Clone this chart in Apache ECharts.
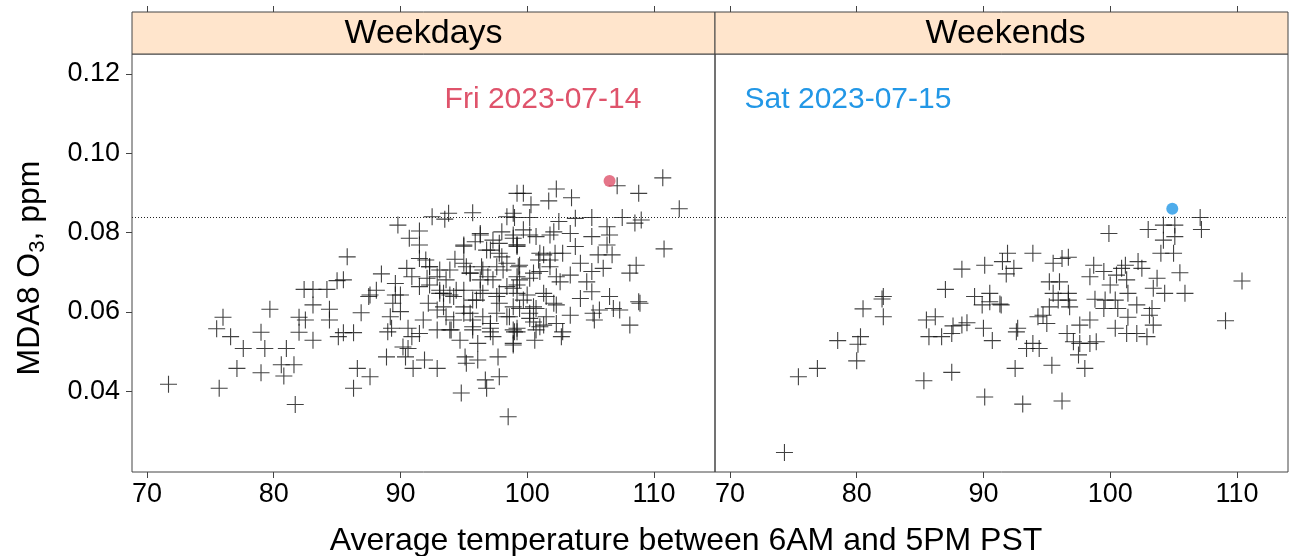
<!DOCTYPE html>
<html>
<head>
<meta charset="utf-8">
<title>MDA8 O3 vs temperature</title>
<script src="https://cdn.jsdelivr.net/npm/echarts@6/dist/echarts.min.js"></script>
<style>
  html, body { margin: 0; padding: 0; background: #fff; }
  #chart { width: 1289px; height: 556px; }
</style>
</head>
<body>
<div id="chart"></div>
<script>
// values: [temperature, MDA8 O3 ppm]
const weekdayPoints = [
  [71.7,0.0418],[75.7,0.0408],[75.5,0.0558],[76.0,0.0587],[76.6,0.0538],[77.6,0.0508],[77.1,0.0458],
  [79.7,0.0607],[79.0,0.0549],[79.3,0.0508],[79.0,0.0447],[81.0,0.0508],[80.6,0.0467],[81.6,0.0467],
  [80.8,0.0439],[81.7,0.0367],[82.0,0.0587],[82.5,0.0580],[82.0,0.0549],[83.1,0.0529],[82.4,0.0657],
  [83.1,0.0657],[84.2,0.0657],[83.1,0.0618],[84.4,0.0607],[84.4,0.0580],[85.0,0.0679],[85.1,0.0538],
  [85.8,0.0739],
  [89.8,0.0819],[91.5,0.0804],[90.7,0.0786],[91.5,0.0769],[92.5,0.0840],[93.8,0.0849],[93.5,0.0834],
  [95.7,0.0850],[96.3,0.0798],[95.9,0.0777],[95.0,0.0766],[98.4,0.0840],[98.9,0.0849],[99.2,0.0899],
  [98.0,0.0802],[97.3,0.0781],[98.9,0.0786],[99.2,0.0769],[97.8,0.0748],[96.8,0.0756],[94.3,0.0733],
  [92.0,0.0731],[91.5,0.0735],[92.3,0.0714],[90.5,0.0710],[90.9,0.0689],[88.5,0.0696],[89.6,0.0672],
  [88.1,0.0655],[85.5,0.0681],[92.1,0.0685],[93.1,0.0706],[93.6,0.0681],[95.2,0.0714],[95.5,0.0698],
  [96.5,0.0706],[96.3,0.0681],[97.6,0.0714],[98.4,0.0723],[97.3,0.0681],[99.2,0.0689],[94.4,0.0655],
  [93.1,0.0655],[91.5,0.0664],[92.3,0.0668],[90.0,0.0643],[87.6,0.0643],[96.3,0.0655],[97.8,0.0647],
  [98.9,0.0660],
  [87.5,0.0639],[89.6,0.0643],[89.4,0.0622],[90.0,0.0601],[89.2,0.0588],[86.9,0.0598],[85.5,0.0548],
  [86.3,0.0548],[89.0,0.0550],[89.3,0.0559],[90.6,0.0559],[91.5,0.0546],[91.8,0.0580],[92.2,0.0622],
  [90.9,0.0538],[90.2,0.0512],[90.6,0.0508],[88.9,0.0487],[90.4,0.0487],[91.9,0.0479],[91.0,0.0458],
  [92.9,0.0458],[86.6,0.0458],[87.6,0.0437],[86.3,0.0408],[92.9,0.0555],[94.0,0.0555],[94.7,0.0529],
  [94.2,0.0580],[93.4,0.0613],[93.1,0.0647],[93.9,0.0643],[95.1,0.0487],[95.2,0.0471],[96.1,0.0479],
  [96.1,0.0521],[95.7,0.0563],[95.5,0.0597],[96.5,0.0588],[97.1,0.0559],[97.3,0.0538],[97.7,0.0487],
  [97.8,0.0437],[96.7,0.0429],[96.8,0.0408],[94.8,0.0396],[98.5,0.0336],[98.9,0.0521],[99.0,0.0550],
  [98.4,0.0588],[97.8,0.0622],[98.9,0.0613],[96.0,0.0630],[95.0,0.0613],
  [110.7,0.0938],[107.1,0.0918],[108.8,0.0899],[112.0,0.0860],[99.7,0.0899],[102.3,0.0910],[101.7,0.0880],
  [103.5,0.0888],[100.3,0.0870],[99.0,0.0838],[100.2,0.0838],[102.5,0.0828],[103.8,0.0836],[105.1,0.0838],
  [106.3,0.0815],[107.5,0.0838],[108.5,0.0824],[109.0,0.0832],[106.5,0.0794],[102.1,0.0802],[103.4,0.0798],
  [105.1,0.0790],[100.7,0.0790],[99.7,0.0807],[99.2,0.0769],[103.8,0.0765],[106.3,0.0769],[110.8,0.0759],
  [101.3,0.0744],[102.8,0.0748],[106.7,0.0744],[105.6,0.0744],[101.8,0.0731],[104.2,0.0723],[99.4,0.0718],
  [108.6,0.0718],[108.1,0.0698],[106.0,0.0710],[105.1,0.0702],[103.4,0.0693],[101.0,0.0702],[100.2,0.0685],
  [102.6,0.0676],[104.7,0.0676],[99.2,0.0668],[105.1,0.0651],[106.5,0.0639],[108.8,0.0626],[107.3,0.0605],
  [105.7,0.0605],[105.3,0.0580],[103.4,0.0592],[102.3,0.0618],[100.7,0.0609],[99.4,0.0609],[100.2,0.0584],
  [101.3,0.0567],[99.2,0.0559],[108.1,0.0567],[104.2,0.0634],[101.5,0.0639],[100.0,0.0643],[102.8,0.0550],
  [108.9,0.0622],[106.8,0.0609],[105.2,0.0597],[102.7,0.0538],[100.6,0.0529],[98.9,0.0517],[99.2,0.0550],
  [101.0,0.0563],
  [95.0,0.0769],[96.3,0.0794],[97.1,0.0756],[97.8,0.0773],[98.9,0.0794],[99.2,0.0765],[100.2,0.0794],
  [101.0,0.0748],[101.8,0.0794],[102.2,0.0748],[92.3,0.0714],[92.9,0.0689],[93.9,0.0706],[95.0,0.0723],
  [95.5,0.0698],[96.4,0.0714],[96.9,0.0689],[98.0,0.0739],[98.1,0.0706],[99.3,0.0714],[99.4,0.0681],
  [100.5,0.0698],[100.9,0.0731],[101.8,0.0714],[102.3,0.0689],[93.4,0.0647],[94.2,0.0639],[95.0,0.0655],
  [95.7,0.0630],[96.5,0.0647],[97.6,0.0639],[98.4,0.0664],[99.2,0.0647],[99.7,0.0630],[100.5,0.0613],
  [101.3,0.0647],[102.1,0.0622],[92.9,0.0605],[93.6,0.0588],[95.0,0.0597],[95.7,0.0580],[97.1,0.0571],
  [97.6,0.0597],[98.6,0.0588],[100.2,0.0597],[100.5,0.0575],[101.5,0.0588],[102.3,0.0571],[93.9,0.0555],
  [95.7,0.0555],[97.1,0.0550],[98.9,0.0555],[100.7,0.0555]
];

const weekendPoints = [
  [74.3,0.0246],[75.4,0.0437],[76.9,0.0458],[78.5,0.0528],[80.0,0.0477],[80.1,0.0519],[80.3,0.0538],
  [80.5,0.0608],[82.0,0.0633],[82.1,0.0639],[82.1,0.0588],[85.3,0.0427],[87.5,0.0448],[90.1,0.0386],
  [85.5,0.0580],[86.2,0.0588],[85.7,0.0538],[86.7,0.0538],[87.5,0.0546],[87.6,0.0565],[88.3,0.0567],
  [88.7,0.0573],[87.0,0.0657],[88.3,0.0708],[90.1,0.0718],[89.3,0.0639],[89.9,0.0618],[90.5,0.0647],
  [90.5,0.0626],[91.4,0.0618],[90.0,0.0559],[90.7,0.0528],[91.9,0.0748],[91.5,0.0727],[91.8,0.0696],
  [107.1,0.0838],[107.2,0.0808],[105.1,0.0819],[104.2,0.0819],[103.0,0.0808],[105.1,0.0790],[104.2,0.0781],
  [105.0,0.0748],[104.0,0.0748],[99.9,0.0798],[110.4,0.0678],[109.1,0.0578],[105.5,0.0699],[105.9,0.0647],
  [104.3,0.0647],[103.7,0.0685],[103.4,0.0660],[102.2,0.0727],[102.5,0.0710],[101.2,0.0718],[100.9,0.0710],
  [101.3,0.0681],[99.5,0.0702],[98.7,0.0718],[98.4,0.0689],[100.0,0.0668],[100.5,0.0693],[101.4,0.0647],
  [99.6,0.0630],[98.8,0.0632],[100.4,0.0630],[102.1,0.0618],[103.3,0.0609],[103.1,0.0592],[101.4,0.0587],
  [100.6,0.0609],[99.5,0.0609],[103.4,0.0567],[100.4,0.0559],[101.3,0.0546],[102.1,0.0546],[102.9,0.0538],
  [98.4,0.0580],[97.6,0.0567],[96.7,0.0630],[96.7,0.0647],[95.5,0.0647],[95.2,0.0676],[96.0,0.0676],
  [95.5,0.0723],[96.2,0.0735],[96.7,0.0738],[93.9,0.0748],[92.4,0.0710],[91.3,0.0620],[95.2,0.0613],
  [95.9,0.0630],[96.8,0.0613],[94.3,0.0588],[95.0,0.0571],[94.7,0.0592],[92.7,0.0559],[92.6,0.0550],
  [93.9,0.0521],[93.4,0.0508],[94.4,0.0508],[96.6,0.0546],[97.1,0.0525],[97.6,0.0521],[98.4,0.0521],
  [98.9,0.0525],[97.5,0.0492],[95.4,0.0466],[98.0,0.0458],[92.5,0.0458],[93.1,0.0368],[96.2,0.0376]
];

const highlightFri = [[106.5, 0.0930]];
const highlightSat = [[104.9, 0.0860]];
const standardLevel = 0.084;

const panelNames = ['Weekdays', 'Weekends'];
const dateLabels = ['Fri 2023-07-14', 'Sat 2023-07-15'];
const xTicks = [70, 80, 90, 100, 110];
const yTicks = [0.04, 0.06, 0.08, 0.10, 0.12];

const FONT = '"Liberation Sans", Arial, sans-serif';
const AXIS_COL = '#444';
const plusSymbol = 'path://M8,0L8,16M0,8L16,8';

const chart = echarts.init(document.getElementById('chart'));

const bottomAxis = (grid, max) => ({
  gridIndex: grid, type: 'value', min: 68.82, max: max,
  axisLine: { show: false },
  splitLine: { show: false },
  axisTick: { show: true, customValues: xTicks, length: 6, lineStyle: { color: AXIS_COL } },
  axisLabel: { customValues: xTicks, fontSize: 27, color: '#000', fontFamily: FONT, margin: 9 }
});
const topAxis = (grid, max) => ({
  gridIndex: grid, type: 'value', position: 'top', offset: 42, min: 68.82, max: max,
  axisLine: { show: false },
  splitLine: { show: false },
  axisTick: { show: true, customValues: xTicks, length: 6, lineStyle: { color: AXIS_COL } },
  axisLabel: { show: false }
});

// precision raised so the 0.084 level is not rounded to 0.08
const refLine = {
  silent: true,
  precision: 4,
  symbol: ['none', 'none'],
  label: { show: false },
  lineStyle: { type: [1, 2], color: '#222', width: 1 },
  data: [{ yAxis: standardLevel }]
};

const plusStyle = { color: 'rgba(0,0,0,0)', borderColor: '#111', borderWidth: 1.1 };

const option = {
  backgroundColor: '#fff',
  animation: false,
  grid: [
    { left: 132, top: 54, width: 583, height: 418, show: true, borderColor: AXIS_COL, borderWidth: 1 },
    { left: 715, top: 54, width: 573, height: 418, show: true, borderColor: AXIS_COL, borderWidth: 1 }
  ],
  xAxis: [bottomAxis(0, 114.82), bottomAxis(1, 114.03), topAxis(0, 114.82), topAxis(1, 114.03)],
  yAxis: [
    {
      gridIndex: 0, type: 'value', min: 0.0197, max: 0.125,
      axisLine: { show: false }, splitLine: { show: false },
      axisTick: { show: true, customValues: yTicks, length: 6, lineStyle: { color: AXIS_COL } },
      axisLabel: {
        customValues: yTicks, fontSize: 27, color: '#000', fontFamily: FONT, margin: 12,
        formatter: v => v.toFixed(2)
      }
    },
    {
      gridIndex: 1, type: 'value', min: 0.0197, max: 0.125,
      axisLine: { show: false }, splitLine: { show: false },
      axisTick: { show: false }, axisLabel: { show: false }
    }
  ],
  series: [
    {
      name: panelNames[0], type: 'scatter', xAxisIndex: 0, yAxisIndex: 0,
      symbol: plusSymbol, symbolSize: 17, itemStyle: plusStyle,
      data: weekdayPoints, markLine: refLine
    },
    {
      name: panelNames[1], type: 'scatter', xAxisIndex: 1, yAxisIndex: 1,
      symbol: plusSymbol, symbolSize: 17, itemStyle: plusStyle,
      data: weekendPoints, markLine: refLine
    },
    {
      type: 'scatter', xAxisIndex: 0, yAxisIndex: 0, symbolSize: 12,
      itemStyle: { color: '#DF536B' }, data: highlightFri, z: 5
    },
    {
      type: 'scatter', xAxisIndex: 1, yAxisIndex: 1, symbolSize: 12,
      itemStyle: { color: '#2297E6' }, data: highlightSat, z: 5
    }
  ],
  graphic: [
    { type: 'rect', shape: { x: 132, y: 12, width: 583, height: 42 },
      style: { fill: '#ffe5cc', stroke: AXIS_COL, lineWidth: 1 }, z: 1 },
    { type: 'rect', shape: { x: 715, y: 12, width: 573, height: 42 },
      style: { fill: '#ffe5cc', stroke: AXIS_COL, lineWidth: 1 }, z: 1 },
    { type: 'text', x: 423.5, y: 34, z: 2,
      style: { text: panelNames[0], font: '34px ' + FONT, fill: '#000', align: 'center', verticalAlign: 'middle' } },
    { type: 'text', x: 1005.5, y: 34, z: 2,
      style: { text: panelNames[1], font: '34px ' + FONT, fill: '#000', align: 'center', verticalAlign: 'middle' } },
    { type: 'text', x: 543, y: 100, z: 2,
      style: { text: dateLabels[0], font: '30px ' + FONT, fill: '#DF536B', align: 'center', verticalAlign: 'middle' } },
    { type: 'text', x: 848, y: 100, z: 2,
      style: { text: dateLabels[1], font: '30px ' + FONT, fill: '#2297E6', align: 'center', verticalAlign: 'middle' } },
    { type: 'text', x: 686, y: 541, z: 2,
      style: { text: 'Average temperature between 6AM and 5PM PST', font: '32px ' + FONT, fill: '#000',
               align: 'center', verticalAlign: 'middle' } },
    { type: 'text', x: 30, y: 268, rotation: Math.PI / 2, z: 2,
      style: {
        text: '{a|MDA8 O}{s|3}{a|, ppm}', align: 'center', verticalAlign: 'middle', fill: '#000',
        rich: {
          a: { fontSize: 32, fontFamily: FONT, fill: '#000', lineHeight: 38 },
          s: { fontSize: 22, fontFamily: FONT, fill: '#000', lineHeight: 38, padding: [16, 0, 0, 0] }
        }
      } }
  ]
};

chart.setOption(option);
window.addEventListener('resize', () => chart.resize());
</script>
</body>
</html>
